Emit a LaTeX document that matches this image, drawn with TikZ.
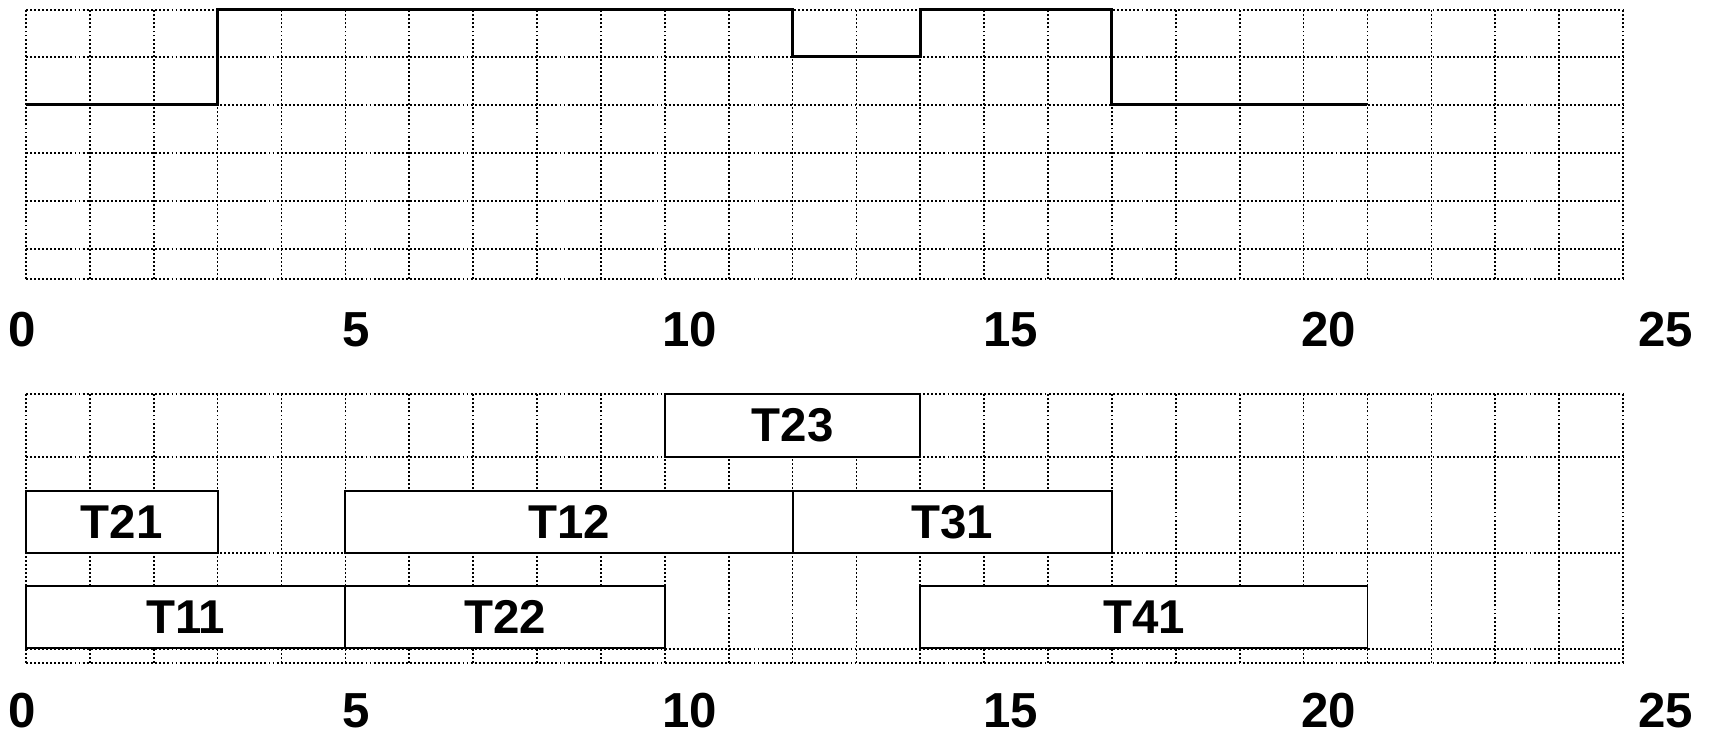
\documentclass[tikz,border=0pt]{standalone}
\usepackage{fontspec}
\setmainfont{Liberation Sans}
\usepackage{tikz}
\newcommand{\colw}{1.2776cm}

\begin{document}
\begin{tikzpicture}[x=\colw,y=1cm,line cap=butt,
  gridline/.style={line width=0.95pt,dash pattern=on 1.1pt off 1.2pt},
  wave/.style={line width=1.7pt,line join=miter},
  task/.style={draw,fill=white,line width=1.1pt,inner sep=0pt,minimum height=1.25cm,font=\fontsize{27}{30}\selectfont\bfseries},
  tick/.style={inner sep=0pt,font=\fontsize{28}{30}\selectfont\bfseries}]
\useasboundingbox (-0.407,0) rectangle (26.456,14.72);
\foreach \i in {0,...,25} \draw[gridline] (\i,9.14) -- (\i,14.52);
\foreach \y in {14.52,13.58,12.62,11.66,10.70,9.74,9.14} \draw[gridline] (0,\y) -- (25,\y);
\foreach \i in {0,...,25} \draw[gridline] (\i,1.46) -- (\i,6.84);
\foreach \y in {6.84,5.58,3.66,1.74,1.46} \draw[gridline] (0,\y) -- (25,\y);
\draw[wave] (0,12.62) -- (3,12.62) -- (3,14.52) -- (12,14.52) -- (12,13.58) -- (14,13.58)
  -- (14,14.52) -- (17,14.52) -- (17,12.62) -- (21,12.62);
\node[task,minimum width=4*\colw] (t23) at (12,6.21) {T23};
\node[task,minimum width=3*\colw] (t21) at (1.5,4.28) {T21};
\node[task,minimum width=7*\colw] (t12) at (8.5,4.28) {T12};
\node[task,minimum width=5*\colw] (t31) at (14.5,4.28) {T31};
\node[task,minimum width=5*\colw] (t11) at (2.5,2.38) {T11};
\node[task,minimum width=5*\colw] (t22) at (7.5,2.38) {T22};
\node[task,minimum width=7*\colw] (t41) at (17.5,2.38) {T41};
\foreach \x/\t in {-0.063/0,5.166/5,10.394/10,15.419/15,20.397/20,25.673/25} {
  \node[tick] (up\t) at (\x,8.12) {\t};
  \node[tick] (lo\t) at (\x,0.50) {\t};
}
\end{tikzpicture}
\end{document}
